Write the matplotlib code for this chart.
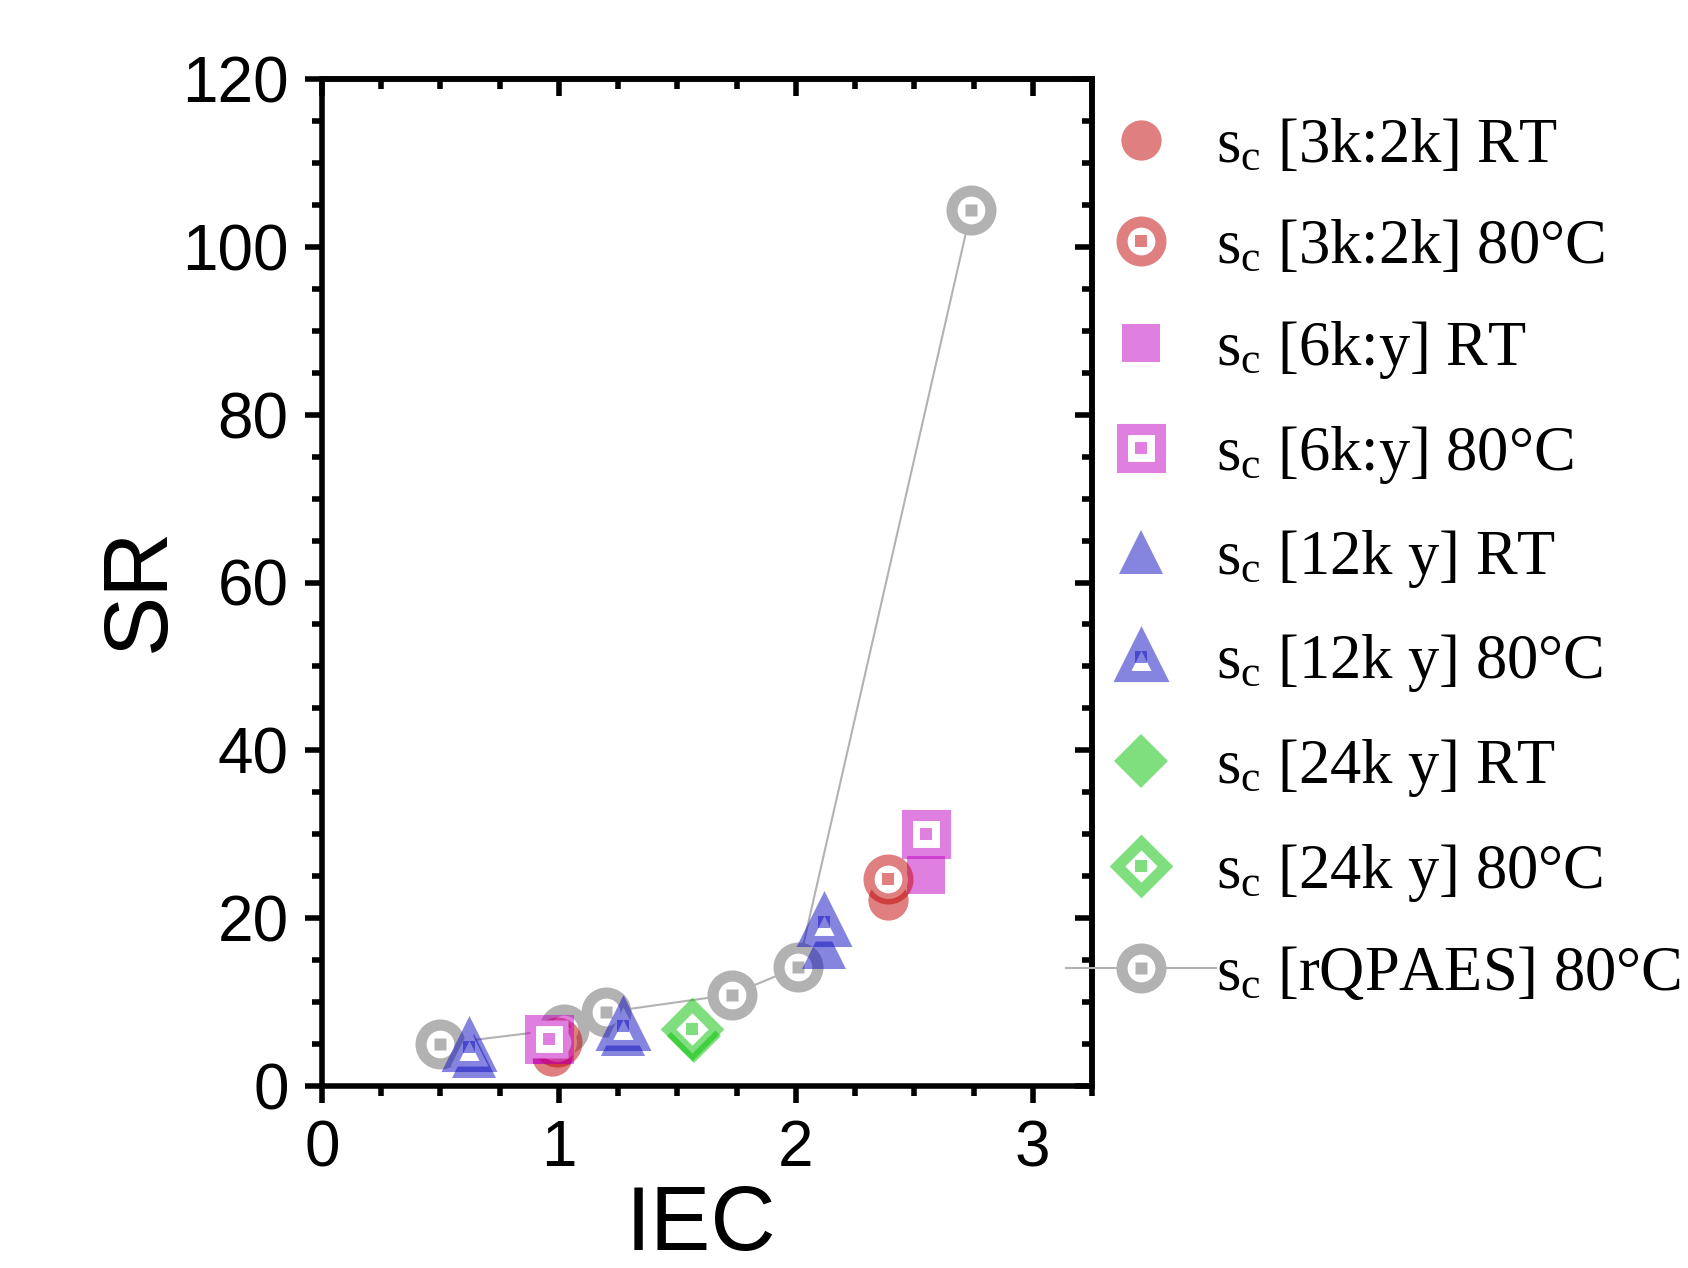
import numpy as np
import matplotlib
matplotlib.use('Agg')
import matplotlib.pyplot as plt
from matplotlib.ticker import MultipleLocator
from matplotlib.legend_handler import HandlerTuple

plt.rcParams['font.family'] = ['Liberation Sans', 'DejaVu Sans']
plt.rcParams['mathtext.fontset'] = 'custom'
plt.rcParams['mathtext.rm'] = 'Liberation Serif'
plt.rcParams['mathtext.it'] = 'Liberation Serif:italic'
plt.rcParams['mathtext.bf'] = 'Liberation Serif:bold'

# values
iec_q = [0.50, 1.02, 1.20, 1.73, 2.01, 2.74]
sr_q = [5.0, 6.8, 8.8, 10.9, 14.2, 104.4]

iec_3k_rt = [0.97, 2.39]
sr_3k_rt = [3.6, 22.2]
iec_3k_80 = [0.99, 2.39]
sr_3k_80 = [5.3, 24.7]

iec_6k_rt = [0.97, 2.55]
sr_6k_rt = [4.9, 25.1]
iec_6k_80 = [0.96, 2.55]
sr_6k_80 = [5.6, 30.0]

iec_12k_rt = [0.64, 1.27, 2.12]
sr_12k_rt = [3.6, 6.2, 16.6]
iec_12k_80 = [0.62, 1.27, 2.12]
sr_12k_80 = [4.6, 7.1, 19.5]

iec_24k_rt = [1.57]
sr_24k_rt = [6.0]
iec_24k_80 = [1.56]
sr_24k_80 = [6.8]

labels = [r'$\mathrm{s_c}$ [3k:2k] RT', r'$\mathrm{s_c}$ [3k:2k] 80°C',
          r'$\mathrm{s_c}$ [6k:y] RT', r'$\mathrm{s_c}$ [6k:y] 80°C',
          r'$\mathrm{s_c}$ [12k y] RT', r'$\mathrm{s_c}$ [12k y] 80°C',
          r'$\mathrm{s_c}$ [24k y] RT', r'$\mathrm{s_c}$ [24k y] 80°C',
          r'$\mathrm{s_c}$ [rQPAES] 80°C']

# semi transparent colours, overlaps get darker like in the original
RED = (0.757, 0.004, 0.004, 0.5)
PINK = (0.757, 0.004, 0.757, 0.5)
BLUE = (0.05, 0.05, 0.757, 0.5)
GREEN = (0.004, 0.757, 0.004, 0.5)
GRAY = '#b2b2b2'

fig = plt.figure(figsize=(16.88, 12.68), dpi=100)
ax = fig.add_axes([322/1688, 1-1086/1268, 770/1688, 1007/1268])


def filled(x, y, marker, color, ms):
    return ax.plot(x, y, ls='none', marker=marker, ms=ms, mfc=color,
                   mec='none', mew=0, zorder=4)[0]


def opened(x, y, marker, color, ms):
    h1 = ax.plot(x, y, ls='none', marker=marker, ms=ms, mfc='white',
                 mec=color, mew=8, zorder=5)[0]
    h2 = ax.plot(x, y, ls='none', marker='s', ms=8, mfc=color,
                 mec='none', mew=0, zorder=5)[0]
    return (h1, h2)


# rQPAES curve
hq1 = ax.plot(iec_q, sr_q, color=GRAY, lw=1.5, marker='o', ms=28,
              mfc='white', mec=GRAY, mew=8, zorder=3)[0]
hq2 = ax.plot(iec_q, sr_q, ls='none', marker='s', ms=8, mfc=GRAY,
              mec='none', zorder=3)[0]

handles = [
    filled(iec_3k_rt, sr_3k_rt, 'o', RED, 29),
    opened(iec_3k_80, sr_3k_80, 'o', RED, 28),
    filled(iec_6k_rt, sr_6k_rt, 's', PINK, 28),
    opened(iec_6k_80, sr_6k_80, 's', PINK, 27),
    filled(iec_12k_rt, sr_12k_rt, '^', BLUE, 31),
    opened(iec_12k_80, sr_12k_80, '^', BLUE, 28),
    filled(iec_24k_rt, sr_24k_rt, 'D', GREEN, 28),
    opened(iec_24k_80, sr_24k_80, 'D', GREEN, 24),
    (hq1, hq2),
]

ax.set_xlim(0, 3.25)
ax.set_ylim(0, 120)
ax.set_xticks([0, 1, 2, 3])
ax.set_yticks(np.arange(0, 121, 20))
ax.xaxis.set_minor_locator(MultipleLocator(0.25))
ax.yaxis.set_minor_locator(MultipleLocator(5))

for s in ax.spines.values():
    s.set_linewidth(4)
ax.tick_params(which='major', direction='out', length=12, width=4,
               labelsize=46, top=False, right=False)
ax.tick_params(which='minor', direction='out', length=7, width=4,
               top=False, right=False)
ax.tick_params(axis='x', pad=12)
ax.tick_params(axis='y', pad=12)

# inward ticks on top and right
top = ax.secondary_xaxis('top')
top.set_xticks([0, 1, 2, 3])
top.xaxis.set_minor_locator(MultipleLocator(0.25))
top.tick_params(which='major', direction='in', length=12, width=4, labeltop=False)
top.tick_params(which='minor', direction='in', length=7, width=4)
right = ax.secondary_yaxis('right')
right.set_yticks(np.arange(0, 121, 20))
right.yaxis.set_minor_locator(MultipleLocator(5))
right.tick_params(which='major', direction='in', length=12, width=4, labelright=False)
right.tick_params(which='minor', direction='in', length=7, width=4)
for sec in (top, right):
    for s in sec.spines.values():
        s.set_linewidth(4)

fig.text(701/1688, 1-1250/1268, 'IEC', fontsize=65, ha='center', va='baseline')
fig.text(164/1688, 1-589/1268, 'SR', fontsize=65, rotation=90,
         rotation_mode='anchor', ha='center', va='baseline')

fig.legend(handles, labels, loc='upper left',
           bbox_to_anchor=(1066/1688, 1-118/1268), frameon=False,
           prop={'family': 'Liberation Serif', 'size': 45},
           handlelength=2.4, handletextpad=0.0, labelspacing=0.68,
           borderpad=0, borderaxespad=0, numpoints=1,
           handler_map={tuple: HandlerTuple(ndivide=1)})

fig.savefig('out.png', dpi=100)
